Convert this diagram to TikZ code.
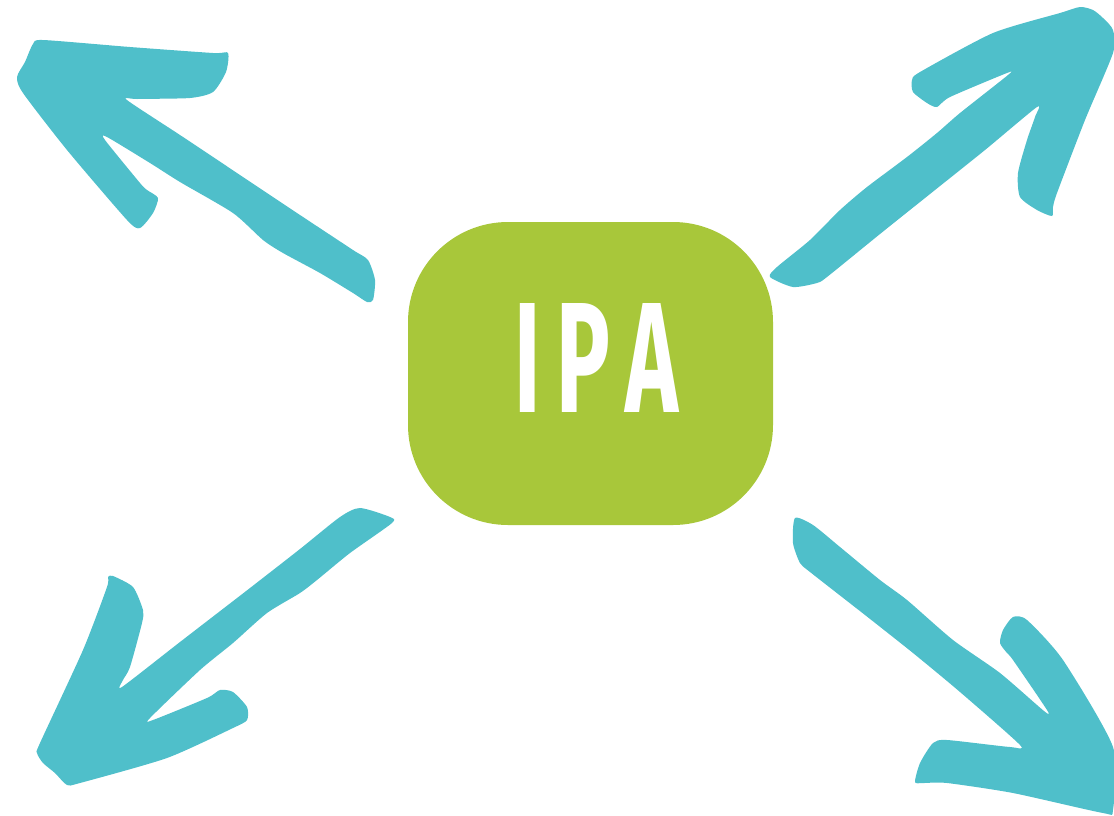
\documentclass[tikz,border=0pt]{standalone}
\usepackage{fontspec}
\setmainfont{Fira Sans}
\definecolor{teal1}{HTML}{4FBFCA}
\definecolor{green1}{HTML}{A8C73A}
\tikzset{
  arrowshape/.style={fill=teal1, draw=none},
  ipabox/.style={rectangle, rounded corners=100pt, fill=green1, draw=none, minimum width=365pt, minimum height=303pt, inner sep=0pt},
  ipatext/.style={text=white, inner sep=0pt, font=\bfseries}
}
\begin{document}
\begin{tikzpicture}[x=1pt,y=-1pt]
\useasboundingbox (0,0) rectangle (1114,815);
% central box
\node[ipabox] (ipa) at (590.5,373.5) {};
\node[ipatext] (ipalabel) at (596.5,357.5) {\resizebox{163pt}{109pt}{I\,P\,A}};
% top-left arrow
\fill[arrowshape] plot[smooth cycle, tension=0.4] coordinates {
 (373,300) (375,280) (368,260) (353,250) (300,215) (240,175) (180,135) (127,100)
 (137,99) (190,98) (213,92) (226,72) (228,53) (213,53) (130,47) (43,40)
 (33,44) (25,62) (17,77) (23,93) (67,150) (127,220) (140,228) (153,213)
 (158,198) (147,190) (140,183) (105,140) (107,137) (150,163) (180,182)
 (233,213) (263,240) (283,253) (320,273) (353,293) (367,302)};
% top-right arrow
\fill[arrowshape] plot[smooth cycle, tension=0.4] coordinates {
 (770,277) (793,287) (817,283) (827,277) (880,234) (930,194) (985,150) (1037,107)
 (1035,117) (1027,140) (1018,173) (1020,197) (1037,210) (1052,216)
 (1053,207) (1057,193) (1085,120) (1113,53) (1113,30) (1103,18) (1093,10) (1080,7)
 (1060,13) (993,33) (920,72) (912,80) (913,92) (927,103) (937,107)
 (950,97) (1007,73) (1008,75) (960,113) (937,133) (907,157) (867,187) (840,210)
 (810,240) (777,267)};
% bottom-left arrow
\fill[arrowshape] plot[smooth cycle, tension=0.4] coordinates {
 (340,517) (360,508) (390,517) (392,523) (350,553) (317,580) (300,593) (267,613) (233,643)
 (200,670) (150,718) (153,720) (207,698) (220,690) (233,692) (247,707) (247,720)
 (233,728) (167,758) (80,783) (67,785) (55,773) (43,763) (37,753)
 (40,743) (83,650) (107,587) (108,577) (113,576) (133,587) (143,610)
 (142,623) (130,667) (123,680) (122,687) (180,642) (250,588) (300,549)};
% bottom-right arrow
\fill[arrowshape] plot[smooth cycle, tension=0.4] coordinates {
 (795,518) (793,543) (800,563) (810,572) (865,615) (913,653) (960,692) (1020,745)
 (1010,747) (947,740) (933,743) (920,763) (915,782) (923,783)
 (947,783) (1013,793) (1103,813) (1113,810) (1113,747) (1063,660)
 (1027,620) (1013,617) (1003,630) (1000,643) (1007,653) (1013,660)
 (1047,710) (1044,711) (1000,673) (953,640) (907,600) (880,580)
 (840,547) (813,525)};
\end{tikzpicture}
\end{document}
